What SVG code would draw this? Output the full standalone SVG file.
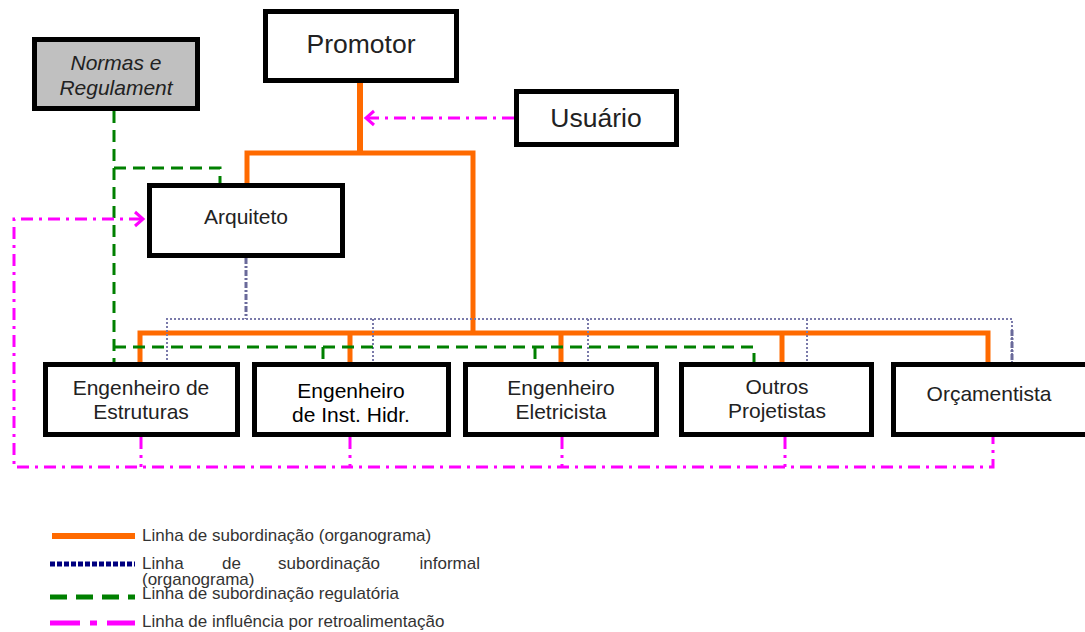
<svg xmlns="http://www.w3.org/2000/svg" width="1085" height="632" viewBox="0 0 1085 632">
<style>
.box{fill:#fff;stroke:#000;stroke-width:5}
.gray{fill:#c0c0c0}
.t{font-family:"Liberation Sans",Arial,sans-serif;fill:#222;text-anchor:middle}
.n{font-size:21px}
.big{font-size:26.5px}
.lg{font-family:"Liberation Sans",Arial,sans-serif;fill:#333;font-size:17px}
.org{fill:none;stroke:#ff6a00;stroke-width:5}
.inf{fill:none;stroke:#7a7aaa;stroke-width:2;stroke-dasharray:2 2}
.reg{fill:none;stroke:#008000;stroke-width:3;stroke-dasharray:12 7}
.fb{fill:none;stroke:#ff00ff;stroke-width:3;stroke-dasharray:12 6 3 6}
.ah{fill:none;stroke:#ff00ff;stroke-width:3}
</style>
<g id="connectors">
  <path class="org" d="M360 83V153" style="stroke-width:6"/>
  <path class="org" d="M247 185V153H473V333"/>
  <path class="org" d="M140 364V333H988V364"/>
  <path class="org" d="M350 333V364M561 333V364M782 333V364"/>
  <path d="M246 258V319" fill="none" stroke="#6a6a9a" stroke-width="3" stroke-dasharray="6 2 2 2"/>
  <path class="inf" d="M167 364V319H1012V364"/>
  <path class="inf" d="M373 319V364M588 319V364M807 319V364"/>
  <path d="M1012 330V364" fill="none" stroke="#6a6a9a" stroke-width="3" stroke-dasharray="6 2 2 2"/>
  <path class="reg" d="M114 111V364"/>
  <path class="reg" d="M114 168H220V185"/>
  <path class="reg" d="M114 347H754V366"/>
  <path class="reg" d="M323 347V364M535 347V364"/>
  <path class="fb" d="M514 118H367"/>
  <path class="ah" d="M374 111L366 118L374 125"/>
  <path class="fb" d="M141 219H14V467H993V437"/>
  <path class="ah" d="M135 212L143 219L135 226"/>
  <path class="fb" d="M141 437V467M350 437V467M562 437V467M785 437V467"/>
</g>
<g id="normas">
  <rect class="box gray" x="34.5" y="39.5" width="163" height="69"/>
  <text class="t n" x="116" y="70" font-style="italic">Normas e</text>
  <text class="t n" x="116" y="95" font-style="italic">Regulament</text>
</g>
<g id="promotor">
  <rect class="box" x="265.5" y="11.5" width="191" height="69"/>
  <text class="t big" x="361" y="53">Promotor</text>
</g>
<g id="usuario">
  <rect class="box" x="516.5" y="91.5" width="160" height="53"/>
  <text class="t big" x="596" y="127">Usuário</text>
</g>
<g id="arquiteto">
  <rect class="box" x="149.5" y="185.5" width="193" height="70"/>
  <text class="t n" x="246" y="224">Arquiteto</text>
</g>
<g id="eng-estruturas">
  <rect class="box" x="45.5" y="364.5" width="192" height="70"/>
  <text class="t n" x="141" y="395">Engenheiro de</text>
  <text class="t n" x="141" y="419">Estruturas</text>
</g>
<g id="eng-hidr">
  <rect class="box" x="254.5" y="364.5" width="194" height="70"/>
  <text class="t n" x="351" y="398" style="fill:#000">Engenheiro</text>
  <text class="t n" x="351" y="422" style="fill:#000">de Inst. Hidr.</text>
</g>
<g id="eng-eletricista">
  <rect class="box" x="465.5" y="364.5" width="191" height="70"/>
  <text class="t n" x="561" y="395">Engenheiro</text>
  <text class="t n" x="561" y="419">Eletricista</text>
</g>
<g id="outros">
  <rect class="box" x="681.5" y="364.5" width="190" height="70"/>
  <text class="t n" x="777" y="394">Outros</text>
  <text class="t n" x="777" y="418">Projetistas</text>
</g>
<g id="orcamentista">
  <rect class="box" x="893.5" y="364.5" width="200" height="70"/>
  <text class="t n" x="989" y="401">Orçamentista</text>
</g>
<g id="legend">
  <line x1="52" y1="536" x2="135" y2="536" stroke="#ff6a00" stroke-width="6"/>
  <text class="lg" x="142" y="541">Linha de subordinação (organograma)</text>
  <line x1="50" y1="564" x2="135" y2="564" stroke="#000080" stroke-width="5" stroke-dasharray="5 2"/>
  <text class="lg" x="142" y="569">Linha</text>
  <text class="lg" x="222" y="569">de</text>
  <text class="lg" x="278" y="569">subordinação</text>
  <text class="lg" x="480" y="569" text-anchor="end">informal</text>
  <text class="lg" x="142" y="585">(organograma)</text>
  <line x1="50" y1="597" x2="135" y2="597" stroke="#008000" stroke-width="5" stroke-dasharray="17 9"/>
  <text class="lg" x="142" y="599">Linha de subordinação regulatória</text>
  <line x1="50" y1="623" x2="135" y2="623" stroke="#ff00ff" stroke-width="5" stroke-dasharray="30 10 7 10 30"/>
  <text class="lg" x="142" y="627">Linha de influência por retroalimentação</text>
</g>
</svg>
